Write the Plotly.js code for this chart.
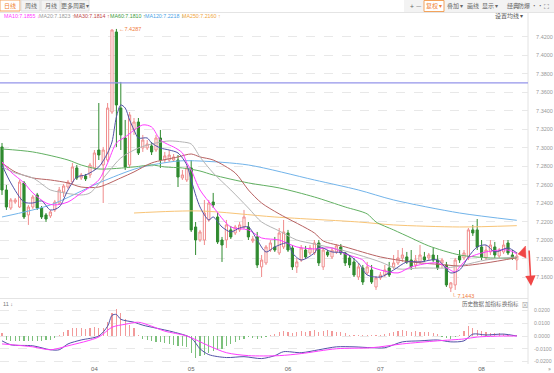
<!DOCTYPE html>
<html><head><meta charset="utf-8">
<script src="https://cdn.plot.ly/plotly-3.0.1.min.js"></script>
<style>html,body{margin:0;padding:0;background:#fff;overflow:hidden}#chart{width:554px;height:373px}</style>
</head><body><div id="chart"></div>
<script>
// ---------- DATA (USD/CNY daily, Mar–Aug) ----------
const opens = [7.3011,7.2546,7.2351,7.2416,7.2362,7.2622,7.2276,7.2362,7.2492,7.2351,7.2276,7.2265,7.2330,7.2405,7.2524,7.2578,7.2632,7.2784,7.2676,7.2697,
7.2708,7.2784,7.2978,7.2816,7.2870,7.3389,7.4254,7.3432,7.3108,7.2816,7.3195,7.3281,7.3000,7.3000,7.3022,7.2978,7.3108,7.2870,7.2870,7.2870,
7.2870,7.2676,7.2654,7.2784,7.2146,7.2005,7.2005,7.2222,7.2416,7.2254,7.2005,7.2005,7.2114,7.2081,7.2114,7.2146,7.2146,7.1995,7.2038,7.1714,
7.1757,7.1897,7.1930,7.1865,7.1930,7.2081,7.1919,7.1714,7.1789,7.1897,7.1865,7.1865,7.1973,7.1714,7.1876,7.1822,7.1876,7.1930,7.1865,7.1811,
7.1768,7.1605,7.1703,7.1649,7.1681,7.1497,7.1595,7.1627,7.1703,7.1714,7.1757,7.1811,7.1822,7.1789,7.1735,7.1768,7.1822,7.1811,7.1843,7.1789,
7.1757,7.1735,7.1486,7.1519,7.1832,7.1811,7.1822,7.2114,7.2114,7.1930,7.1811,7.1876,7.1930,7.1832,7.1876,7.1973,7.1843,7.1789];
const highs = [7.3054,7.2600,7.2459,7.2459,7.2654,7.2643,7.2384,7.2492,7.2514,7.2373,7.2297,7.2330,7.2438,7.2578,7.2611,7.2654,7.2838,7.2816,7.2730,7.2719,
7.2838,7.2978,7.3486,7.3011,7.3486,7.4280,7.4287,7.3714,7.3303,7.3389,7.3324,7.3324,7.3141,7.3086,7.3065,7.3141,7.3195,7.2957,7.2978,7.2935,
7.2924,7.2762,7.2805,7.2870,7.2200,7.2114,7.2438,7.2438,7.2514,7.2297,7.2038,7.2222,7.2157,7.2168,7.2200,7.2330,7.2200,7.2049,7.2092,7.1843,
7.1951,7.2005,7.2038,7.2135,7.2222,7.2114,7.1951,7.1811,7.1951,7.1941,7.1951,7.2005,7.2005,7.1919,7.1897,7.1919,7.1962,7.1962,7.1876,7.1843,
7.1811,7.1757,7.1735,7.1768,7.1735,7.1616,7.1659,7.1735,7.1768,7.1843,7.1897,7.1919,7.1876,7.1897,7.1843,7.1951,7.1876,7.1865,7.1919,7.1843,
7.1811,7.1768,7.1551,7.1811,7.1897,7.1897,7.2135,7.2168,7.2232,7.2005,7.1951,7.2005,7.1984,7.1919,7.2005,7.2005,7.1897,7.1876];
const lows = [7.2492,7.2330,7.2330,7.2395,7.2351,7.2232,7.2168,7.2341,7.2330,7.2232,7.2200,7.2243,7.2308,7.2384,7.2470,7.2557,7.2611,7.2654,7.2654,7.2643,
7.2676,7.2762,7.2870,7.2405,7.2849,7.3368,7.3011,7.2978,7.2762,7.2784,7.3141,7.2924,7.2957,7.2978,7.2924,7.2957,7.2784,7.2838,7.2849,7.2849,
7.2578,7.2654,7.2632,7.2092,7.1843,7.1984,7.1951,7.2200,7.2351,7.1962,7.1768,7.1919,7.2016,7.2059,7.2092,7.2124,7.2005,7.1973,7.1703,7.1605,
7.1735,7.1876,7.1876,7.1843,7.1908,7.1876,7.1681,7.1649,7.1768,7.1800,7.1843,7.1843,7.1724,7.1681,7.1822,7.1800,7.1854,7.1843,7.1724,7.1703,
7.1605,7.1573,7.1519,7.1627,7.1530,7.1465,7.1573,7.1605,7.1605,7.1692,7.1735,7.1768,7.1746,7.1681,7.1703,7.1746,7.1768,7.1789,7.1768,7.1681,
7.1703,7.1497,7.1443,7.1465,7.1757,7.1789,7.1789,7.2049,7.1897,7.1789,7.1789,7.1843,7.1811,7.1811,7.1854,7.1843,7.1789,7.1681];
const closes = [7.2546,7.2362,7.2438,7.2438,7.2632,7.2254,7.2362,7.2470,7.2351,7.2254,7.2232,7.2308,7.2416,7.2546,7.2589,7.2632,7.2795,7.2676,7.2708,7.2665,
7.2816,7.2946,7.2924,7.2978,7.3432,7.4276,7.3465,7.3141,7.2795,7.3357,7.3281,7.2946,7.3086,7.3043,7.2957,7.3108,7.2870,7.2914,7.2924,7.2903,
7.2686,7.2708,7.2784,7.2114,7.2005,7.2092,7.2297,7.2405,7.2384,7.1984,7.1951,7.2168,7.2038,7.2146,7.2168,7.2254,7.2038,7.2016,7.1735,7.1789,
7.1930,7.1973,7.1897,7.2081,7.2092,7.1897,7.1714,7.1768,7.1919,7.1822,7.1919,7.1973,7.1757,7.1897,7.1843,7.1897,7.1941,7.1865,7.1757,7.1735,
7.1627,7.1714,7.1551,7.1714,7.1551,7.1595,7.1627,7.1681,7.1627,7.1757,7.1811,7.1843,7.1768,7.1714,7.1789,7.1843,7.1789,7.1843,7.1789,7.1703,
7.1789,7.1519,7.1541,7.1789,7.1789,7.1865,7.2114,7.2081,7.1930,7.1822,7.1897,7.1951,7.1843,7.1897,7.1951,7.1865,7.1811,7.1832];

// month ticks (trading-day index of first session of each month)
const monthIdx = [0,21,43,65,86,109];
const monthLabels = ['03','04','05','06','07','08'];
const priceTicks = [7.16,7.18,7.20,7.22,7.24,7.26,7.28,7.30,7.32,7.34,7.36,7.38,7.40,7.42];
const macdTicks = [0.02,0.01,0,-0.01,-0.02];
const refLevel = 7.3703;

// moving averages (index, value)
const ma5X = [0,2,5,7,9,11,13,15,17,19,22,24,25,26,27,28,29,30,31,33,34,36,38,40,42,43,45,47,48,50,52,54,56,58,60,62,65,66,68,71,72,75,78,81,83,86,89,92,95,99,102,104,106,108,110,112,115,117];
const ma5V = [7.2816,7.2622,7.2416,7.2405,7.2427,7.2330,7.2362,7.2546,7.2686,7.2708,7.2795,7.2946,7.3065,7.3335,7.3465,7.3432,7.3303,7.3195,7.3108,7.3108,7.3054,7.3000,7.2978,7.2946,7.2816,7.2654,7.2362,7.2222,7.2254,7.2146,7.2092,7.2135,7.2146,7.2005,7.1876,7.1930,7.1973,7.1865,7.1789,7.1865,7.1930,7.1876,7.1865,7.1757,7.1627,7.1605,7.1681,7.1768,7.1768,7.1789,7.1649,7.1681,7.1822,7.1930,7.1951,7.1876,7.1919,7.1865];
const ma10X = [0,2,5,7,10,12,15,18,22,24,26,28,32,34,36,38,39,41,42,43,45,48,52,56,59,63,67,71,75,78,82,83,86,90,93,99,103,104,106,110,115,117];
const ma10V = [7.2849,7.2741,7.2622,7.2514,7.2405,7.2384,7.2416,7.2514,7.2654,7.2838,7.3054,7.3119,7.3249,7.3227,7.3086,7.3032,7.3011,7.2946,7.2838,7.2762,7.2546,7.2362,7.2146,7.2114,7.2027,7.2005,7.1930,7.1908,7.1919,7.1854,7.1789,7.1735,7.1681,7.1649,7.1714,7.1757,7.1659,7.1714,7.1811,7.1876,7.1897,7.1855];
const ma20X = [0,3,7,11,13,18,20,24,27,31,35,38,41,43,45,48,52,56,59,63,67,71,78,86,90,95,101,105,110,117];
const ma20V = [7.2795,7.2730,7.2676,7.2546,7.2524,7.2492,7.2514,7.2730,7.2892,7.3000,7.3054,7.3076,7.3065,7.3043,7.2903,7.2730,7.2546,7.2351,7.2200,7.2103,7.2005,7.1962,7.1886,7.1768,7.1692,7.1703,7.1703,7.1735,7.1789,7.1823];
const ma30X = [0,3,7,11,15,18,22,27,30,34,40,43,45,48,53,56,59,63,71,73,78,86,93,101,104,110,117];
const ma30V = [7.2838,7.2741,7.2676,7.2654,7.2622,7.2578,7.2578,7.2676,7.2741,7.2838,7.2903,7.2935,7.2903,7.2870,7.2730,7.2546,7.2405,7.2287,7.2081,7.1995,7.1930,7.1822,7.1768,7.1735,7.1724,7.1757,7.1814];
const ma60X = [0,7,15,18,22,30,34,37,41,45,48,56,63,71,78,83,85,89,93,97,104,111,117];
const ma60V = [7.2989,7.2957,7.2870,7.2816,7.2773,7.2795,7.2816,7.2795,7.2784,7.2751,7.2708,7.2622,7.2568,7.2470,7.2362,7.2287,7.2200,7.2114,7.2027,7.1941,7.1843,7.1811,7.1810];
const ma120X = [0,11,22,31,40,45,56,71,81,89,104,117];
const ma120V = [7.2254,7.2384,7.2622,7.2784,7.2859,7.2859,7.2816,7.2654,7.2546,7.2438,7.2297,7.2218];
const ma250X = [30,45,62,81,89,104,117];
const ma250V = [7.2297,7.2319,7.2254,7.2200,7.2168,7.2146,7.2160];

// MACD
const difX = [0,2,7,11,13,15,18,22,24,25,26,27,30,32,35,39,43,45,47,51,55,59,62,64,68,72,76,80,84,87,91,95,99,102,105,107,110,114,117];
const difV = [-0.0038,-0.0069,-0.0077,-0.0108,-0.0108,-0.0062,-0.0031,0.0000,0.0077,0.0162,0.0169,0.0131,0.0108,0.0085,0.0062,0.0031,-0.0015,-0.0100,-0.0146,-0.0169,-0.0162,-0.0177,-0.0154,-0.0123,-0.0131,-0.0108,-0.0085,-0.0085,-0.0092,-0.0092,-0.0046,-0.0038,-0.0031,-0.0046,-0.0038,0.0015,0.0008,0.0015,0.0000];
const deaX = [0,7,11,15,22,25,28,31,34,37,42,47,51,56,63,68,76,84,91,99,105,108,114,117];
const deaV = [-0.0062,-0.0085,-0.0108,-0.0077,-0.0008,0.0069,0.0092,0.0108,0.0077,0.0038,0.0000,-0.0077,-0.0131,-0.0154,-0.0154,-0.0138,-0.0100,-0.0092,-0.0062,-0.0038,-0.0023,-0.0008,0.0000,0.0000];
const macdHist = [0.0020,-0.0035,-0.0040,-0.0040,-0.0038,-0.0040,-0.0040,-0.0038,-0.0040,-0.0040,-0.0035,-0.0030,-0.0015,0.0010,0.0030,0.0050,0.0060,0.0065,0.0060,0.0055,
0.0060,0.0070,0.0065,0.0060,0.0110,0.0180,0.0215,0.0180,0.0130,0.0090,0.0060,0.0010,-0.0020,-0.0030,-0.0040,-0.0045,-0.0050,-0.0055,-0.0060,-0.0070,
-0.0075,-0.0080,-0.0090,-0.0130,-0.0170,-0.0160,-0.0150,-0.0130,-0.0120,-0.0110,-0.0100,-0.0080,-0.0060,-0.0045,-0.0030,-0.0020,-0.0010,-0.0015,-0.0020,-0.0015,
-0.0010,0.0010,0.0015,0.0030,0.0040,0.0030,0.0025,0.0030,0.0040,0.0035,0.0040,0.0045,0.0035,0.0040,0.0045,0.0040,0.0035,0.0030,0.0020,0.0010,
0.0008,0.0008,0.0005,0.0008,0.0008,0.0010,0.0010,0.0015,0.0020,0.0030,0.0040,0.0045,0.0040,0.0035,0.0040,0.0035,0.0030,0.0030,0.0025,0.0015,
-0.0010,-0.0015,-0.0020,-0.0010,0.0010,0.0040,0.0075,0.0060,0.0050,0.0040,0.0030,0.0025,0.0020,0.0020,0.0015,0.0010,0.0008,0.0005];

// ---------- STYLE / GEOMETRY ----------
const W=554,H=373,MR=26,MB=9;
const PW=W-MR, PH=H-MB;
const X=px=>px/PW, Y=py=>(PH-py)/PH;
const FONT='"Liberation Sans","Noto Sans CJK SC",sans-serif';
const CJK='"Noto Sans CJK SC",sans-serif';
const idx = opens.map((_,i)=>i);

const C = {ma5:'#5252a6',ma10:'#ff3cff',ma20:'#b4b4b4',ma30:'#b86262',ma60:'#62b062',ma120:'#72b4ea',ma250:'#f8c476'};
const line=(x,y,color)=>({type:'scatter',mode:'lines',x,y,xaxis:'x',yaxis:'y',hoverinfo:'skip',
  line:{color,width:1,shape:'spline',smoothing:0.8}});

const traces = [
 {type:'candlestick',x:idx,open:opens,high:highs,low:lows,close:closes,xaxis:'x',yaxis:'y',hoverinfo:'skip',whiskerwidth:0,
  increasing:{line:{color:'#f08c8c',width:1},fillcolor:'#ffffff'},
  decreasing:{line:{color:'#2f8a2f',width:1},fillcolor:'#2f8a2f'}},
 line(ma250X,ma250V,C.ma250), line(ma120X,ma120V,C.ma120), line(ma60X,ma60V,C.ma60),
 line(ma30X,ma30V,C.ma30), line(ma20X,ma20V,C.ma20), line(ma10X,ma10V,C.ma10), line(ma5X,ma5V,C.ma5),
 {type:'bar',x:idx,y:macdHist,xaxis:'x',yaxis:'y2',width:0.28,hoverinfo:'skip',
  marker:{color:macdHist.map(v=>v>=0?'#f29a9a':'#7cc07c'),line:{width:0}}},
 {type:'scatter',mode:'lines',x:difX,y:difV,xaxis:'x',yaxis:'y2',hoverinfo:'skip',line:{color:C.ma5,width:1,shape:'spline',smoothing:0.8}},
 {type:'scatter',mode:'lines',x:deaX,y:deaV,xaxis:'x',yaxis:'y2',hoverinfo:'skip',line:{color:C.ma10,width:1,shape:'spline',smoothing:0.8}}
];

// ---------- DECORATION ----------
const rect=(x0,y0,x1,y1,fill,lc,layer)=>({type:'rect',xref:'paper',yref:'paper',x0:X(x0),x1:X(x1),y0:Y(y1),y1:Y(y0),
  fillcolor:fill,line:{color:lc||'rgba(0,0,0,0)',width:lc?1:0},layer:layer||'below'});
const hline=(x0,x1,py,color)=>({type:'line',xref:'paper',yref:'paper',x0:X(x0),x1:X(x1),y0:Y(py),y1:Y(py),line:{color,width:1},layer:'below'});
const T=(text,px,py,o={})=>({xref:'paper',yref:'paper',x:X(px),y:Y(py),text,showarrow:false,
  xanchor:o.xa||'center',yanchor:'middle',font:{family:o.f||CJK,size:o.s||6,color:o.c||'#666'}});

const shapes = [
 rect(0,0,20,11,'#ffffff','#f3a35c'), rect(21,0,40,11,'#f3f3f3','#dddddd'), rect(41,0,60,11,'#f3f3f3','#dddddd'), rect(61,0,89,11,'#f3f3f3','#dddddd'),
 rect(404,0,554,12,'#f3f3f3',null), rect(424,0.5,444,11.5,'#ffffff','#f3a35c'),
 hline(0,554,12.5,'#e4e4e4'),
 hline(0,528,298.5,'#e4e4e4'),
 {type:'line',xref:'paper',yref:'paper',x0:1,x1:1,y0:Y(364),y1:Y(12.5),line:{color:'#e2e2e2',width:1},layer:'below'},
 {type:'line',xref:'paper',yref:'y',x0:0,x1:1,y0:refLevel,y1:refLevel,line:{color:'#9494ea',width:1.2}},
 {type:'path',xref:'paper',yref:'paper',path:`M ${X(525.5)} ${Y(246)} L ${X(518)} ${Y(254)} L ${X(526)} ${Y(258)} Z`,
  fillcolor:'#f04646',line:{color:'#f04646',width:0.5}}
];

const hiI = highs.indexOf(Math.max(...highs)), loI = lows.indexOf(Math.min(...lows));
const last = a=>a[a.length-1];
const legendItems = [
 ['MA10',last(ma10V),'↓','#ff3cff',2],['MA20',last(ma20V),'↑','#9a9a9a',37],['MA30',last(ma30V),'↑','#c04848',72],
 ['MA60',last(ma60V),'↑','#3d9c3d',108],['MA120',last(ma120V),'↓','#4aa2e6',143],['MA250',last(ma250V),'↑','#f0a43a',180]];

const annotations = [
 T('日线',10,5.8,{c:'#f08030'}), T('周线',30.5,5.8), T('月线',50.5,5.8), T('更多周期 ▾',75,5.8),
 T('+',412,5.8,{s:7}), T('—',419,5.8,{s:6}), T('复权 ▾',434,5.8,{c:'#f08030'}), T('叠加 ▾',455,5.8), T('画线',472.5,5.8),
 T('显示 ▾',490,5.8), T('经典',513,5.8), T('防爆 ••',530.5,5.8), T('⛶',546.5,5.8,{s:7}),
 T('设置均线 ▾',525,16,{xa:'right',c:'#555'}),
 ...legendItems.map(([n,v,a,c,px])=>T(`${n}:${v.toFixed(4)} ${a}`,px,16,{xa:'left',c,f:FONT,s:5.3})),
 T('历史数据',473.5,304,{s:5.5}), T('加指标',493.5,304,{s:5.5}), T('换指标',510,304,{s:5.5}), T('⊠',524.5,304,{s:6,c:'#999'}),
 T('11 ↓',0.5,304,{xa:'left',s:5.5,f:FONT,c:'#777'}),
 T('»',549.5,368.5,{s:6,c:'#888'}),
 {xref:'x',yref:'y',x:hiI,y:highs[hiI],text:'←'+highs[hiI].toFixed(4),showarrow:false,xanchor:'left',yanchor:'middle',xshift:1,
  font:{family:FONT,size:5.5,color:'#f07c3c'}},
 {xref:'x',yref:'y',x:loI,y:lows[loI],text:'└ '+lows[loI].toFixed(4),showarrow:false,xanchor:'left',yanchor:'top',xshift:-1,yshift:1,
  font:{family:FONT,size:5.5,color:'#f07c3c'}},
 {xref:'paper',yref:'paper',x:X(531),y:Y(286),ax:-2,ay:-37,text:'',showarrow:true,arrowhead:2,arrowsize:1.3,arrowwidth:1.6,arrowcolor:'#f04646'}
];

const layout = {
 width:W,height:H,margin:{l:0,r:MR,t:0,b:MB,pad:0},paper_bgcolor:'#ffffff',plot_bgcolor:'#ffffff',showlegend:false,
 font:{family:FONT,size:6,color:'#666'},
 xaxis:{range:[-0.4545,119.545],anchor:'y2',tickmode:'array',tickvals:monthIdx,ticktext:monthLabels,showgrid:false,zeroline:false,
  showline:false,ticks:'',tickfont:{size:6,color:'#666'},rangeslider:{visible:false},fixedrange:true},
 yaxis:{domain:[Y(298),Y(22)],range:[7.1378,7.4362],side:'right',tickmode:'array',tickvals:priceTicks,tickformat:'.4f',
  showgrid:true,gridcolor:'#e8e8e8',griddash:'dash',gridwidth:1,zeroline:false,showline:false,ticks:'outside',ticklen:6,tickcolor:'rgba(0,0,0,0)',
  tickfont:{size:5.5,color:'#999'}},
 yaxis2:{domain:[0,Y(300)],range:[-0.02196,0.02824],side:'right',anchor:'x',tickmode:'array',tickvals:macdTicks,
  ticktext:macdTicks.map(v=>v.toFixed(4)),
  showgrid:true,gridcolor:'#e8e8e8',griddash:'dash',zeroline:false,showline:false,ticks:'outside',ticklen:4,tickcolor:'rgba(0,0,0,0)',
  tickfont:{size:5.2,color:'#999'}},
 shapes, annotations, bargap:0
};

Plotly.newPlot('chart',traces,layout,{staticPlot:true,displayModeBar:false});
</script>
</body></html>
